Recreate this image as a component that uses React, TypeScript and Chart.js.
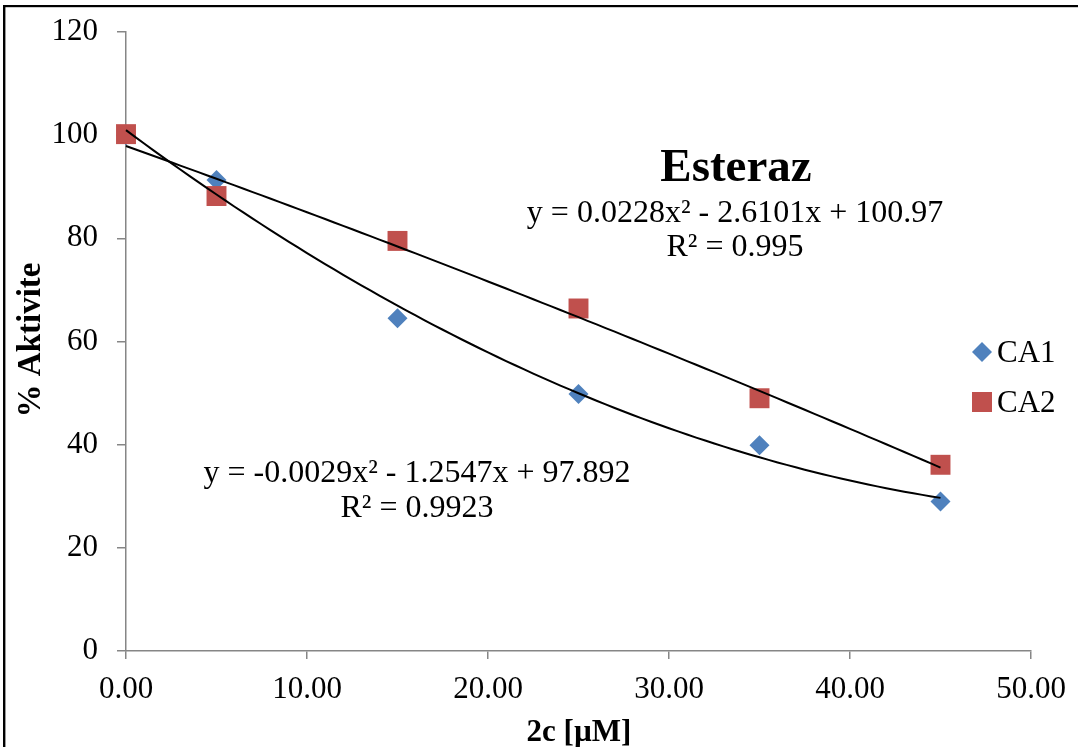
import React, { useEffect, useRef } from "react";
import { Chart, registerables } from "chart.js";

Chart.register(...registerables);

// ---- data ----
const concentrations = [0, 5, 15, 25, 35, 45];
const ca1Values = [100, 91.3, 64.5, 49.8, 39.9, 29.0];
const ca2Values = [100.2, 88.2, 79.5, 66.4, 49.0, 36.1];
// polynomial trendline coefficients [a, b, c] for y = a x^2 + b x + c (as printed on chart)
const ca1Coef = [0.0228, -2.6101, 100.97];
const ca2Coef = [-0.0029, -1.2547, 97.892];
const seriesNames = ["CA1", "CA2"];
const eq1Lines = ["y = 0.0228x² - 2.6101x + 100.97", "R² = 0.995"];
const eq2Lines = ["y = -0.0029x² - 1.2547x + 97.892", "R² = 0.9923"];
const chartTitle = "Esteraz";
const xTitle = "2c [µM]";
const yTitle = "% Aktivite";

const BLUE = "#4F81BD";
const RED = "#C0504D";
const AXIS = "#868686";
const FONT = '"Liberation Serif", "Times New Roman", serif';

function trend(coef: number[]) {
  const pts: { x: number; y: number }[] = [];
  const x0 = concentrations[0];
  const x1 = concentrations[concentrations.length - 1];
  for (let i = 0; i <= 90; i++) {
    const x = x0 + ((x1 - x0) * i) / 90;
    pts.push({ x, y: coef[0] * x * x + coef[1] * x + coef[2] });
  }
  return pts;
}

const textPlugin = {
  id: "annotText",
  beforeDraw(chart: any) {
    const ctx = chart.ctx;
    ctx.save();
    ctx.fillStyle = "#ffffff";
    ctx.fillRect(0, 0, chart.width, chart.height);
    ctx.fillStyle = "#000000";
    ctx.fillRect(3, 5, 2.4, chart.height);
    ctx.fillRect(3, 5, chart.width, 2.2);
    ctx.restore();
  },
  afterDraw(chart: any) {
    const ctx = chart.ctx;
    ctx.save();
    ctx.fillStyle = "#000";
    ctx.textAlign = "center";
    ctx.textBaseline = "alphabetic";
    ctx.font = `bold 47px ${FONT}`;
    ctx.fillText(chartTitle, 736, 181);

    ctx.font = `32px ${FONT}`;
    ctx.fillText(eq1Lines[0], 735, 222);
    ctx.fillText(eq1Lines[1], 735, 256);
    ctx.fillText(eq2Lines[0], 417, 482);
    ctx.fillText(eq2Lines[1], 417, 517);

    // axis titles
    ctx.font = `bold 31px ${FONT}`;
    ctx.fillText(xTitle, 579, 741);
    ctx.save();
    ctx.font = `bold 33px ${FONT}`;
    ctx.translate(40, 340);
    ctx.rotate(-Math.PI / 2);
    ctx.fillText(yTitle, 0, 0);
    ctx.restore();

    // legend
    ctx.fillStyle = BLUE;
    ctx.beginPath();
    ctx.moveTo(972, 352);
    ctx.lineTo(982, 342);
    ctx.lineTo(992, 352);
    ctx.lineTo(982, 362);
    ctx.closePath();
    ctx.fill();
    ctx.fillStyle = RED;
    ctx.fillRect(972, 392, 20, 20);
    ctx.fillStyle = "#000";
    ctx.textAlign = "left";
    ctx.font = `31px ${FONT}`;
    ctx.fillText(seriesNames[0], 997, 362);
    ctx.fillText(seriesNames[1], 997, 412);
    ctx.restore();
  },
};

export default function App() {
  const ref = useRef<HTMLCanvasElement | null>(null);
  useEffect(() => {
    if (!ref.current) return;
    const chart = new Chart(ref.current, {
      type: "scatter",
      data: {
        datasets: [
          {
            type: "line",
            label: "trend1",
            data: trend(ca1Coef),
            borderColor: "#000",
            borderWidth: 2,
            pointRadius: 0,
            fill: false,
            clip: false,
            order: 0,
          },
          {
            type: "line",
            label: "trend2",
            data: trend(ca2Coef),
            borderColor: "#000",
            borderWidth: 2,
            pointRadius: 0,
            fill: false,
            clip: false,
            order: 0,
          },
          {
            label: seriesNames[1],
            data: concentrations.map((x, i) => ({ x, y: ca2Values[i] })),
            pointStyle: "rect",
            pointRadius: 14.1,
            backgroundColor: RED,
            borderColor: RED,
            borderWidth: 0,
            clip: false,
            order: 1,
          },
          {
            label: seriesNames[0],
            data: concentrations.map((x, i) => ({ x, y: ca1Values[i] })),
            pointStyle: "rectRot",
            pointRadius: 10,
            backgroundColor: BLUE,
            borderColor: BLUE,
            borderWidth: 0,
            clip: false,
            order: 2,
          },
        ],
      },
      options: {
        animation: false,
        responsive: true,
        maintainAspectRatio: false,
        layout: { padding: { top: 32, right: 47, left: 0, bottom: 0 } },
        plugins: { legend: { display: false }, tooltip: { enabled: false }, title: { display: false } },
        scales: {
          x: {
            type: "linear",
            min: 0,
            max: 50,
            ticks: {
              stepSize: 10,
              callback: (v: any) => Number(v).toFixed(2),
              color: "#000",
              font: { family: FONT, size: 31 },
              padding: 12,
              maxRotation: 0,
            },
            grid: { display: true, drawOnChartArea: false, drawTicks: true, tickLength: 8, color: AXIS, lineWidth: 1.5 },
            border: { display: true, color: AXIS, width: 1.5 },
            afterFit: (s: any) => {
              s.height = 96;
            },
          },
          y: {
            min: 0,
            max: 120,
            ticks: {
              stepSize: 20,
              color: "#000",
              font: { family: FONT, size: 31, lineHeight: 0.8 },
              padding: 19,
            },
            grid: { display: true, drawOnChartArea: false, drawTicks: true, tickLength: 9, color: AXIS, lineWidth: 1.5 },
            border: { display: true, color: AXIS, width: 1.5 },
            afterFit: (s: any) => {
              s.width = 126;
            },
          },
        },
      },
      plugins: [textPlugin],
    } as any);
    return () => chart.destroy();
  }, []);
  return (
    <div style={{ position: "fixed", left: 0, top: 0, width: 1078, height: 747, background: "#fff" }}>
      <canvas ref={ref} />
    </div>
  );
}
